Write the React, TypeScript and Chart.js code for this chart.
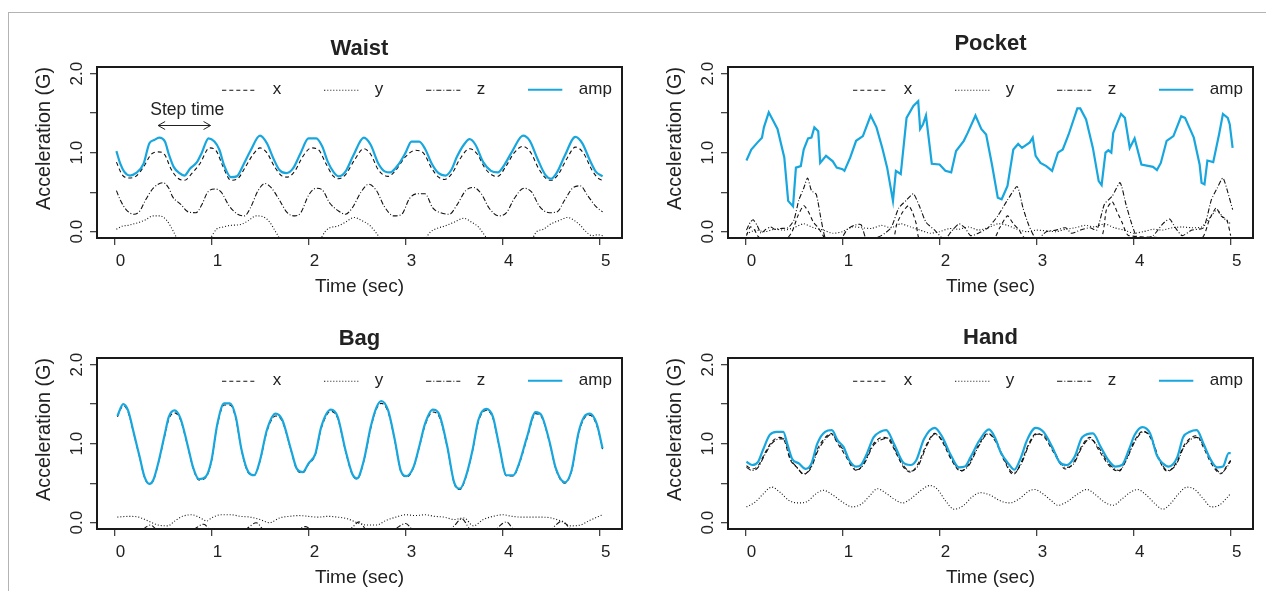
import React, { useEffect, useRef } from 'react';
import { Chart, registerables } from 'chart.js';

Chart.register(...registerables);

type Pt = [number, number];

// ---------------- data ----------------
const panelTitles = ['Waist', 'Pocket', 'Bag', 'Hand'];
const seriesNames = ['x', 'y', 'z', 'amp'];
const xTickValues = [0, 1, 2, 3, 4, 5];
const xTickLabels = ['0', '1', '2', '3', '4', '5'];
const yTickValues = [0, 0.5, 1, 1.5, 2];
const yTickLabels = ['0.0', '', '1.0', '', '2.0'];
const xAxisTitle = 'Time (sec)';
const yAxisTitle = 'Acceleration (G)';
const stepTimeLabel = 'Step time';
const stepArrowT = [0.45, 0.99];
const stepArrowV = 1.35;
const stepLabelPos: Pt = [0.75, 1.54];

const waistAmp: Pt[] = [[0.02,1.02],[0.06,0.86],[0.1,0.76],[0.16,0.71],[0.22,0.74],[0.3,0.86],[0.36,1.12],[0.41,1.16],[0.46,1.19],[0.52,1.14],[0.56,0.98],[0.61,0.82],[0.67,0.74],[0.72,0.71],[0.78,0.8],[0.85,0.88],[0.9,1.0],[0.97,1.18],[1.03,1.14],[1.08,1.04],[1.13,0.84],[1.2,0.69],[1.26,0.7],[1.33,0.85],[1.4,1.02],[1.5,1.215],[1.57,1.12],[1.64,0.92],[1.7,0.78],[1.77,0.74],[1.84,0.8],[1.92,1.0],[2.0,1.18],[2.08,1.18],[2.14,1.08],[2.2,0.88],[2.26,0.75],[2.31,0.7],[2.38,0.76],[2.46,0.96],[2.57,1.19],[2.64,1.1],[2.72,0.86],[2.79,0.76],[2.84,0.75],[2.92,0.84],[3.0,1.0],[3.06,1.14],[3.14,1.14],[3.2,1.05],[3.27,0.86],[3.34,0.74],[3.41,0.71],[3.47,0.78],[3.53,0.95],[3.6,1.1],[3.66,1.17],[3.72,1.1],[3.8,0.88],[3.88,0.77],[3.95,0.75],[4.02,0.85],[4.1,1.02],[4.21,1.215],[4.28,1.15],[4.36,0.92],[4.44,0.72],[4.5,0.67],[4.56,0.75],[4.64,0.96],[4.75,1.2],[4.82,1.12],[4.9,0.9],[4.96,0.76],[5.03,0.7]];
const waistX: Pt[] = [[0.02,0.88],[0.08,0.72],[0.15,0.68],[0.22,0.7],[0.3,0.82],[0.38,0.98],[0.45,1.01],[0.52,0.97],[0.58,0.8],[0.65,0.68],[0.72,0.65],[0.8,0.74],[0.88,0.86],[0.98,1.06],[1.05,1.02],[1.12,0.82],[1.2,0.65],[1.27,0.67],[1.35,0.82],[1.43,0.98],[1.5,1.06],[1.57,1.0],[1.65,0.82],[1.72,0.71],[1.78,0.69],[1.86,0.77],[1.94,0.95],[2.03,1.06],[2.1,1.04],[2.18,0.86],[2.25,0.71],[2.31,0.67],[2.38,0.72],[2.47,0.9],[2.57,1.05],[2.64,0.98],[2.72,0.78],[2.82,0.7],[2.9,0.78],[3.0,0.95],[3.1,1.03],[3.18,1.0],[3.27,0.8],[3.34,0.69],[3.4,0.66],[3.48,0.74],[3.56,0.92],[3.66,1.05],[3.74,0.98],[3.82,0.8],[3.9,0.71],[3.95,0.7],[4.03,0.82],[4.12,1.0],[4.21,1.08],[4.29,1.0],[4.37,0.8],[4.45,0.67],[4.5,0.65],[4.57,0.72],[4.66,0.92],[4.75,1.07],[4.83,1.0],[4.92,0.78],[4.98,0.68],[5.03,0.65]];
const waistY: Pt[] = [[0.02,0.03],[0.08,0.07],[0.14,0.08],[0.2,0.1],[0.26,0.12],[0.32,0.15],[0.4,0.2],[0.47,0.2],[0.54,0.14],[0.6,0.02],[0.66,-0.12],[0.8,-0.3],[0.9,-0.2],[0.99,-0.08],[1.05,0.03],[1.12,0.06],[1.2,0.08],[1.3,0.09],[1.38,0.14],[1.46,0.2],[1.53,0.19],[1.6,0.12],[1.66,0.0],[1.72,-0.12],[1.85,-0.3],[2.0,-0.25],[2.12,-0.1],[2.17,0.0],[2.22,0.05],[2.3,0.07],[2.38,0.12],[2.47,0.18],[2.55,0.14],[2.63,0.08],[2.7,-0.02],[2.76,-0.12],[2.95,-0.3],[3.1,-0.2],[3.2,-0.09],[3.26,0.0],[3.32,0.04],[3.4,0.07],[3.5,0.12],[3.6,0.17],[3.68,0.12],[3.75,0.06],[3.8,-0.02],[3.86,-0.12],[4.05,-0.3],[4.2,-0.2],[4.3,-0.1],[4.35,0.0],[4.42,0.03],[4.5,0.1],[4.58,0.14],[4.67,0.18],[4.74,0.14],[4.8,0.08],[4.86,0.0],[4.92,-0.05],[4.98,-0.04],[5.03,-0.05]];
const waistZ: Pt[] = [[0.02,0.52],[0.06,0.4],[0.12,0.28],[0.2,0.22],[0.26,0.26],[0.32,0.4],[0.4,0.55],[0.5,0.62],[0.56,0.55],[0.6,0.44],[0.68,0.35],[0.76,0.25],[0.84,0.24],[0.9,0.34],[0.96,0.5],[1.04,0.54],[1.1,0.5],[1.18,0.33],[1.27,0.22],[1.34,0.2],[1.4,0.3],[1.48,0.52],[1.55,0.61],[1.62,0.55],[1.7,0.4],[1.78,0.24],[1.86,0.2],[1.92,0.24],[2.0,0.46],[2.08,0.55],[2.14,0.53],[2.22,0.36],[2.3,0.27],[2.38,0.22],[2.45,0.3],[2.54,0.5],[2.62,0.6],[2.7,0.52],[2.78,0.32],[2.88,0.2],[2.96,0.22],[3.04,0.42],[3.12,0.48],[3.2,0.48],[3.28,0.3],[3.36,0.24],[3.45,0.22],[3.53,0.34],[3.62,0.52],[3.7,0.56],[3.78,0.48],[3.86,0.3],[3.96,0.2],[4.04,0.24],[4.12,0.42],[4.22,0.55],[4.3,0.5],[4.38,0.32],[4.48,0.24],[4.56,0.25],[4.64,0.4],[4.72,0.55],[4.8,0.58],[4.88,0.45],[4.96,0.32],[5.03,0.25]];

const pocketAmp: Pt[] = [[0.01,0.9],[0.06,1.04],[0.125,1.13],[0.17,1.19],[0.19,1.32],[0.24,1.51],[0.33,1.3],[0.4,0.94],[0.44,0.39],[0.49,0.32],[0.52,0.81],[0.57,0.83],[0.6,1.04],[0.645,1.18],[0.68,1.19],[0.71,1.32],[0.75,1.27],[0.77,0.87],[0.83,0.96],[0.9,0.89],[0.94,0.81],[1.0,0.79],[1.02,0.77],[1.08,0.94],[1.14,1.15],[1.21,1.21],[1.29,1.47],[1.35,1.32],[1.41,1.06],[1.46,0.81],[1.52,0.39],[1.55,0.77],[1.6,0.73],[1.66,1.44],[1.73,1.59],[1.78,1.65],[1.8,1.3],[1.83,1.36],[1.86,1.47],[1.92,0.86],[2.0,0.85],[2.06,0.77],[2.12,0.75],[2.17,1.02],[2.25,1.15],[2.29,1.25],[2.37,1.47],[2.43,1.3],[2.48,1.23],[2.54,0.85],[2.6,0.43],[2.64,0.41],[2.7,0.58],[2.76,1.04],[2.81,1.11],[2.85,1.06],[2.93,1.13],[2.96,1.19],[2.99,0.96],[3.04,0.87],[3.1,0.83],[3.16,0.77],[3.22,1.0],[3.27,1.04],[3.33,1.23],[3.42,1.56],[3.45,1.56],[3.51,1.42],[3.58,1.06],[3.64,0.64],[3.67,0.59],[3.71,1.0],[3.74,1.03],[3.77,1.0],[3.79,1.25],[3.87,1.49],[3.91,1.44],[3.96,1.06],[4.01,1.18],[4.08,0.85],[4.2,0.82],[4.24,0.78],[4.28,0.87],[4.34,1.15],[4.41,1.21],[4.49,1.46],[4.53,1.44],[4.62,1.19],[4.68,0.85],[4.7,0.62],[4.73,0.6],[4.76,0.9],[4.82,0.88],[4.88,1.23],[4.92,1.49],[4.97,1.44],[4.99,1.36],[5.02,1.06]];
const pocketX: Pt[] = [[0.01,-0.05],[0.05,0.06],[0.09,0.03],[0.13,-0.06],[0.2,-0.12],[0.4,-0.12],[0.48,0.0],[0.54,0.2],[0.6,0.33],[0.65,0.25],[0.7,0.12],[0.75,0.05],[0.8,-0.05],[0.85,-0.15],[1.5,-0.15],[1.56,0.1],[1.62,0.25],[1.68,0.33],[1.72,0.25],[1.76,0.1],[1.8,-0.1],[2.55,-0.1],[2.62,0.05],[2.7,0.2],[2.76,0.1],[2.82,0.02],[2.88,-0.08],[3.65,-0.1],[3.72,0.28],[3.78,0.38],[3.83,0.25],[3.88,0.12],[3.95,-0.05],[4.7,-0.08],[4.78,0.15],[4.85,0.3],[4.9,0.2],[4.96,0.15],[5.0,-0.05]];
const pocketY: Pt[] = [[0.01,-0.03],[0.1,0.02],[0.2,0.0],[0.3,0.03],[0.4,0.02],[0.5,0.05],[0.6,0.1],[0.7,0.05],[0.8,0.02],[0.9,-0.02],[1.0,0.0],[1.1,0.06],[1.2,0.05],[1.3,0.04],[1.4,0.08],[1.5,0.05],[1.6,0.1],[1.7,0.06],[1.8,0.02],[1.9,-0.02],[2.0,0.0],[2.1,0.04],[2.2,0.03],[2.3,0.06],[2.4,0.02],[2.5,0.05],[2.6,0.1],[2.7,0.08],[2.8,0.03],[2.9,0.0],[3.0,0.02],[3.1,0.01],[3.2,0.0],[3.3,0.03],[3.4,0.05],[3.5,0.08],[3.6,0.06],[3.7,0.1],[3.8,0.05],[3.9,0.02],[4.0,-0.02],[4.1,0.0],[4.2,0.03],[4.3,0.02],[4.4,0.05],[4.5,0.06],[4.6,0.05],[4.7,0.06],[4.8,0.2],[4.86,0.28],[4.92,0.18],[5.0,0.1]];
const pocketZ: Pt[] = [[0.01,0.02],[0.05,0.12],[0.08,0.15],[0.12,0.08],[0.16,-0.02],[0.2,0.02],[0.26,0.06],[0.3,0.03],[0.36,0.04],[0.44,0.05],[0.5,0.15],[0.55,0.4],[0.6,0.55],[0.64,0.68],[0.68,0.52],[0.73,0.47],[0.78,0.15],[0.83,-0.1],[0.95,-0.15],[1.05,0.03],[1.12,0.08],[1.19,0.09],[1.25,-0.1],[1.4,-0.05],[1.5,0.05],[1.58,0.3],[1.66,0.4],[1.73,0.48],[1.8,0.3],[1.86,0.12],[1.95,0.02],[2.05,-0.1],[2.12,0.0],[2.2,0.1],[2.26,0.05],[2.32,-0.05],[2.4,-0.02],[2.5,0.05],[2.6,0.2],[2.7,0.4],[2.8,0.57],[2.86,0.3],[2.92,0.08],[3.0,-0.1],[3.1,0.0],[3.2,0.02],[3.3,0.05],[3.36,-0.02],[3.45,0.02],[3.55,0.05],[3.62,0.02],[3.7,0.35],[3.78,0.45],[3.86,0.62],[3.92,0.35],[3.98,0.1],[4.05,-0.1],[4.2,-0.05],[4.3,0.1],[4.37,0.16],[4.43,0.05],[4.5,-0.05],[4.6,0.02],[4.72,0.05],[4.8,0.4],[4.86,0.55],[4.92,0.68],[4.97,0.5],[5.02,0.28]];

const bagAmp: Pt[] = [[0.03,1.35],[0.09,1.5],[0.14,1.42],[0.2,1.13],[0.26,0.83],[0.31,0.58],[0.36,0.49],[0.4,0.54],[0.45,0.75],[0.52,1.13],[0.56,1.34],[0.62,1.42],[0.68,1.32],[0.75,1.0],[0.81,0.7],[0.87,0.55],[0.94,0.58],[1.0,0.79],[1.06,1.25],[1.13,1.51],[1.19,1.51],[1.25,1.34],[1.31,0.92],[1.38,0.64],[1.44,0.6],[1.5,0.79],[1.57,1.17],[1.66,1.38],[1.73,1.3],[1.82,0.92],[1.88,0.68],[1.94,0.64],[2.0,0.75],[2.07,0.87],[2.13,1.21],[2.23,1.43],[2.3,1.34],[2.38,0.92],[2.45,0.62],[2.5,0.56],[2.57,0.79],[2.64,1.21],[2.7,1.46],[2.75,1.54],[2.82,1.42],[2.89,1.04],[2.95,0.66],[3.01,0.59],[3.08,0.7],[3.14,0.96],[3.2,1.25],[3.28,1.43],[3.35,1.36],[3.43,0.96],[3.5,0.51],[3.56,0.43],[3.62,0.58],[3.69,0.92],[3.75,1.3],[3.83,1.44],[3.9,1.34],[3.96,1.0],[4.04,0.6],[4.11,0.6],[4.17,0.75],[4.25,1.08],[4.34,1.4],[4.4,1.36],[4.48,1.04],[4.55,0.68],[4.64,0.51],[4.71,0.66],[4.78,1.13],[4.84,1.34],[4.9,1.38],[4.97,1.25],[5.03,0.94]];
const bagX: Pt[] = [[0.03,1.34],[0.09,1.48],[0.14,1.4],[0.2,1.12],[0.26,0.82],[0.31,0.57],[0.36,0.49],[0.4,0.53],[0.45,0.74],[0.52,1.11],[0.56,1.31],[0.62,1.39],[0.68,1.3],[0.75,0.99],[0.81,0.69],[0.87,0.54],[0.94,0.57],[1.0,0.78],[1.06,1.23],[1.13,1.49],[1.19,1.49],[1.25,1.32],[1.31,0.91],[1.38,0.63],[1.44,0.6],[1.5,0.78],[1.57,1.15],[1.66,1.35],[1.73,1.28],[1.82,0.91],[1.88,0.67],[1.94,0.63],[2.0,0.74],[2.07,0.86],[2.13,1.19],[2.23,1.41],[2.3,1.32],[2.38,0.91],[2.45,0.61],[2.5,0.55],[2.57,0.78],[2.64,1.19],[2.7,1.44],[2.75,1.51],[2.82,1.4],[2.89,1.03],[2.95,0.65],[3.01,0.58],[3.08,0.69],[3.14,0.95],[3.2,1.23],[3.28,1.4],[3.35,1.33],[3.43,0.95],[3.5,0.5],[3.56,0.42],[3.62,0.57],[3.69,0.91],[3.75,1.28],[3.83,1.42],[3.9,1.32],[3.96,0.99],[4.04,0.59],[4.11,0.59],[4.17,0.74],[4.25,1.06],[4.34,1.38],[4.4,1.34],[4.48,1.03],[4.55,0.67],[4.64,0.5],[4.71,0.65],[4.78,1.11],[4.84,1.32],[4.9,1.36],[4.97,1.23],[5.03,0.93]];
const bagY: Pt[] = [[0.03,0.07],[0.15,0.08],[0.25,0.07],[0.35,0.02],[0.45,-0.03],[0.55,-0.04],[0.62,0.02],[0.7,0.08],[0.8,0.1],[0.9,0.05],[0.95,0.02],[1.0,0.06],[1.1,0.1],[1.2,0.1],[1.3,0.08],[1.4,0.07],[1.5,0.04],[1.6,0.0],[1.7,0.06],[1.8,0.08],[1.9,0.09],[2.0,0.08],[2.1,0.07],[2.2,0.08],[2.3,0.07],[2.4,0.05],[2.5,0.0],[2.6,-0.03],[2.7,-0.03],[2.8,0.03],[2.9,0.07],[3.0,0.1],[3.1,0.09],[3.2,0.1],[3.3,0.08],[3.4,0.07],[3.5,0.04],[3.6,0.06],[3.7,-0.04],[3.8,0.04],[3.9,0.08],[4.0,0.1],[4.1,0.08],[4.2,0.07],[4.3,0.07],[4.4,0.07],[4.5,0.06],[4.6,0.02],[4.7,-0.04],[4.8,-0.03],[4.9,0.03],[5.03,0.1]];
const bagZ: Pt[] = [[0.03,-0.2],[0.2,-0.2],[0.3,-0.08],[0.37,-0.03],[0.44,-0.1],[0.55,-0.22],[0.8,-0.1],[0.92,-0.02],[1.0,-0.12],[1.2,-0.2],[1.38,-0.06],[1.46,0.0],[1.54,-0.1],[1.75,-0.2],[1.9,-0.08],[1.97,-0.05],[2.05,-0.12],[2.3,-0.2],[2.45,-0.06],[2.52,0.01],[2.6,-0.1],[2.8,-0.18],[2.93,-0.05],[3.0,-0.01],[3.08,-0.1],[3.35,-0.2],[3.5,-0.04],[3.58,0.05],[3.66,-0.08],[3.85,-0.2],[3.97,-0.04],[4.04,0.01],[4.12,-0.1],[4.4,-0.2],[4.54,-0.04],[4.61,0.02],[4.7,-0.08],[4.9,-0.2],[5.03,-0.15]];

const handAmp: Pt[] = [[0.01,0.77],[0.07,0.73],[0.13,0.77],[0.18,0.92],[0.25,1.11],[0.32,1.15],[0.39,1.15],[0.43,1.0],[0.48,0.81],[0.55,0.75],[0.62,0.68],[0.68,0.75],[0.74,1.0],[0.82,1.15],[0.89,1.17],[0.95,1.04],[1.01,0.96],[1.07,0.79],[1.14,0.71],[1.19,0.73],[1.25,0.87],[1.32,1.08],[1.39,1.15],[1.45,1.17],[1.53,1.0],[1.62,0.77],[1.7,0.73],[1.76,0.79],[1.84,1.06],[1.95,1.2],[2.03,1.08],[2.11,0.87],[2.2,0.7],[2.26,0.71],[2.32,0.83],[2.41,1.04],[2.51,1.18],[2.57,1.08],[2.63,0.89],[2.72,0.73],[2.77,0.67],[2.84,0.83],[2.9,1.04],[2.99,1.2],[3.07,1.15],[3.16,0.96],[3.24,0.76],[3.31,0.73],[3.39,0.83],[3.47,1.08],[3.58,1.13],[3.66,0.96],[3.74,0.79],[3.81,0.71],[3.88,0.73],[3.95,0.92],[4.01,1.11],[4.09,1.21],[4.17,1.13],[4.24,0.85],[4.3,0.75],[4.36,0.71],[4.45,0.83],[4.51,1.08],[4.58,1.15],[4.65,1.17],[4.72,1.0],[4.78,0.83],[4.86,0.7],[4.92,0.71],[4.98,0.88],[5.0,0.88]];
const handX: Pt[] = [[0.01,0.72],[0.07,0.68],[0.13,0.72],[0.2,0.88],[0.27,1.02],[0.35,1.08],[0.4,1.04],[0.46,0.8],[0.53,0.7],[0.6,0.61],[0.67,0.7],[0.75,0.95],[0.84,1.1],[0.88,1.13],[0.95,1.0],[1.03,0.85],[1.1,0.7],[1.15,0.66],[1.22,0.76],[1.32,1.0],[1.42,1.08],[1.47,1.06],[1.56,0.86],[1.63,0.7],[1.7,0.64],[1.78,0.75],[1.87,1.0],[1.95,1.13],[2.03,1.02],[2.12,0.8],[2.22,0.65],[2.3,0.74],[2.4,0.98],[2.5,1.13],[2.58,1.02],[2.66,0.8],[2.76,0.61],[2.84,0.76],[2.92,1.0],[3.0,1.13],[3.08,1.08],[3.18,0.88],[3.3,0.68],[3.38,0.76],[3.47,0.98],[3.55,1.08],[3.64,0.92],[3.75,0.72],[3.85,0.65],[3.92,0.8],[4.01,1.04],[4.1,1.16],[4.18,1.06],[4.26,0.8],[4.35,0.65],[4.44,0.76],[4.52,0.98],[4.65,1.1],[4.72,0.95],[4.8,0.75],[4.9,0.62],[4.96,0.72],[5.0,0.79]];
const handY: Pt[] = [[0.01,0.2],[0.1,0.26],[0.18,0.36],[0.27,0.45],[0.36,0.38],[0.45,0.28],[0.55,0.25],[0.64,0.27],[0.72,0.36],[0.8,0.41],[0.9,0.35],[1.0,0.26],[1.1,0.2],[1.2,0.24],[1.28,0.34],[1.36,0.43],[1.44,0.38],[1.53,0.3],[1.62,0.25],[1.7,0.3],[1.8,0.4],[1.9,0.47],[1.98,0.42],[2.06,0.28],[2.15,0.17],[2.25,0.22],[2.33,0.32],[2.42,0.38],[2.52,0.35],[2.62,0.28],[2.72,0.25],[2.82,0.3],[2.92,0.4],[2.98,0.42],[3.07,0.36],[3.15,0.28],[3.22,0.22],[3.32,0.27],[3.42,0.36],[3.52,0.42],[3.6,0.36],[3.7,0.26],[3.79,0.22],[3.88,0.3],[3.96,0.38],[4.04,0.42],[4.12,0.36],[4.22,0.24],[4.3,0.17],[4.38,0.24],[4.46,0.36],[4.55,0.45],[4.63,0.42],[4.72,0.3],[4.8,0.2],[4.88,0.22],[4.95,0.3],[5.0,0.37]];
const handZ: Pt[] = [[0.01,0.7],[0.07,0.66],[0.13,0.7],[0.2,0.86],[0.27,1.0],[0.35,1.06],[0.4,1.06],[0.46,0.82],[0.53,0.7],[0.6,0.62],[0.67,0.68],[0.75,0.92],[0.84,1.08],[0.89,1.12],[0.95,1.02],[1.03,0.88],[1.1,0.72],[1.15,0.67],[1.22,0.74],[1.32,0.98],[1.42,1.06],[1.47,1.07],[1.56,0.88],[1.63,0.72],[1.7,0.65],[1.78,0.72],[1.87,0.98],[1.95,1.12],[2.03,1.04],[2.12,0.82],[2.22,0.66],[2.3,0.72],[2.4,0.96],[2.5,1.12],[2.58,1.04],[2.66,0.82],[2.76,0.63],[2.84,0.74],[2.92,0.98],[3.0,1.12],[3.08,1.1],[3.18,0.9],[3.3,0.7],[3.38,0.74],[3.47,0.96],[3.55,1.06],[3.64,0.95],[3.75,0.74],[3.85,0.66],[3.92,0.78],[4.01,1.02],[4.1,1.15],[4.18,1.08],[4.26,0.82],[4.35,0.66],[4.44,0.74],[4.52,0.96],[4.65,1.08],[4.72,0.98],[4.8,0.78],[4.9,0.63],[4.96,0.7],[5.0,0.78]];

const panelSeries: Pt[][][] = [
  [waistX, waistY, waistZ, waistAmp],
  [pocketX, pocketY, pocketZ, pocketAmp],
  [bagX, bagY, bagZ, bagAmp],
  [handX, handY, handZ, handAmp],
];

// ---------------- layout / style ----------------
const X_MIN = -0.18, X_MAX = 5.23, Y_MIN = -0.08, Y_MAX = 2.084;
const BOX_W = 525, BOX_H = 171;
const YAXIS_W = 90, XAXIS_H = 65, TOP_SPACE = 62, BOTTOM_SPACE = 70, RIGHT_PAD = 6;
const PANEL_POS = [
  { L: 97, T: 67, titleGap: 18, smooth: true },
  { L: 728, T: 67, titleGap: 22.7, smooth: false },
  { L: 97, T: 358, titleGap: 18.6, smooth: true },
  { L: 728, T: 358, titleGap: 20.2, smooth: true },
];
const TEXT = '#222';
const INK = '#111';
const BLUE = '#17a6de';
const FONT = '"Liberation Sans", Arial, sans-serif';
const STYLES = [
  { color: INK, width: 1.1, dash: [4, 3] },
  { color: INK, width: 1.1, dash: [1, 2] },
  { color: INK, width: 1.1, dash: [5, 2, 1, 2] },
  { color: BLUE, width: 2.2, dash: [] as number[] },
];
const LEGEND_PAD = 43;
const LEGEND_FONT = 17;
const SWATCH_W = 42, SWATCH_LINE = 34;

function makeSwatch(color: string, width: number, dash: number[]) {
  const c = document.createElement('canvas');
  c.width = SWATCH_W;
  c.height = 6;
  const g = c.getContext('2d')!;
  g.strokeStyle = color;
  g.lineWidth = width < 2 ? 1 : 2;
  g.setLineDash(dash);
  g.beginPath();
  g.moveTo(0, width < 2 ? 3.5 : 3);
  g.lineTo(SWATCH_LINE, width < 2 ? 3.5 : 3);
  g.stroke();
  return c;
}

const boxPlugin = {
  id: 'rbox',
  afterDatasetsDraw(chart: any) {
    const { ctx, chartArea: a } = chart;
    ctx.save();
    ctx.strokeStyle = '#1a1a1a';
    ctx.lineWidth = 2;
    ctx.setLineDash([]);
    ctx.strokeRect(a.left, a.top, a.right - a.left, a.bottom - a.top);
    ctx.restore();
  },
};

const legendInside = {
  id: 'legendInside',
  beforeInit(chart: any) {
    const lg = chart.legend;
    if (!lg) return;
    const fit = lg.fit;
    lg.fit = function () {
      fit.call(this);
      this.height = 0;
    };
  },
  afterLayout(chart: any) {
    const lg = chart.legend;
    if (!lg) return;
    const a = chart.chartArea;
    const lineX = a.left + 125.3;
    const lineY = a.top + 22.7;
    lg.left = lineX - LEGEND_PAD;
    lg.right = chart.width + 300;
    lg.top = lineY - LEGEND_PAD - LEGEND_FONT / 2;
    lg.bottom = lg.top + 140;
    lg.width = lg.right - lg.left;
    lg.height = lg.bottom - lg.top;
  },
};

const stepPlugin = {
  id: 'stepTime',
  afterDatasetsDraw(chart: any) {
    const xs = chart.scales.x, ys = chart.scales.y, ctx = chart.ctx;
    const x1 = xs.getPixelForValue(stepArrowT[0]);
    const x2 = xs.getPixelForValue(stepArrowT[1]);
    const y = Math.round(ys.getPixelForValue(stepArrowV)) + 0.5;
    ctx.save();
    ctx.strokeStyle = '#222';
    ctx.lineWidth = 1;
    ctx.beginPath();
    ctx.moveTo(x1, y);
    ctx.lineTo(x2, y);
    ctx.moveTo(x1 + 7, y - 4);
    ctx.lineTo(x1, y);
    ctx.lineTo(x1 + 7, y + 4);
    ctx.moveTo(x2 - 7, y - 4);
    ctx.lineTo(x2, y);
    ctx.lineTo(x2 - 7, y + 4);
    ctx.stroke();
    ctx.fillStyle = TEXT;
    ctx.font = `17.5px ${FONT}`;
    ctx.textAlign = 'center';
    ctx.textBaseline = 'middle';
    ctx.fillText(stepTimeLabel, xs.getPixelForValue(stepLabelPos[0]), ys.getPixelForValue(stepLabelPos[1]));
    ctx.restore();
  },
};

function Panel({ idx }: { idx: number }) {
  const ref = useRef<HTMLCanvasElement | null>(null);
  const pos = PANEL_POS[idx];
  const width = YAXIS_W + BOX_W + RIGHT_PAD;
  const height = TOP_SPACE + BOX_H + BOTTOM_SPACE;
  useEffect(() => {
    if (!ref.current) return;
    const swatches = STYLES.map((s) => makeSwatch(s.color, s.width, s.dash));
    const padTop = TOP_SPACE - pos.titleGap - 13.2;
    const titleBottom = pos.titleGap - 13.2;
    const datasets = panelSeries[idx].map((data, i) => ({
      label: seriesNames[i],
      data,
      borderColor: STYLES[i].color,
      backgroundColor: STYLES[i].color,
      borderWidth: STYLES[i].width,
      borderDash: STYLES[i].dash,
      pointRadius: 0,
      fill: false,
      order: i === 3 ? -1 : i,
      tension: pos.smooth ? 0.4 : (i === 3 ? 0 : 0.2),
      cubicInterpolationMode: pos.smooth ? 'monotone' : 'default',
    }));
    const plugins: any[] = [legendInside, boxPlugin];
    if (idx === 0) plugins.push(stepPlugin);
    const chart = new Chart(ref.current, {
      type: 'line',
      data: { datasets: datasets as any },
      options: {
        responsive: false,
        animation: false,
        events: [],
        layout: { padding: { left: 0, right: RIGHT_PAD, top: padTop, bottom: BOTTOM_SPACE - XAXIS_H } },
        font: { family: FONT },
        scales: {
          x: {
            type: 'linear',
            min: X_MIN,
            max: X_MAX,
            afterBuildTicks: (s: any) => { s.ticks = xTickValues.map((v) => ({ value: v })); },
            afterFit: (s: any) => { s.height = XAXIS_H; },
            grid: { drawOnChartArea: false, drawTicks: true, tickLength: 7, color: '#444', lineWidth: 1.3 },
            border: { display: false },
            ticks: {
              autoSkip: false, maxRotation: 0, minRotation: 0,
              font: { size: 17, family: FONT }, color: TEXT, padding: 6.3, labelOffset: 6,
              callback: (_v: any, i: number) => xTickLabels[i],
            },
            title: { display: true, text: xAxisTitle, font: { size: 19, family: FONT }, color: TEXT, padding: { top: 0, bottom: 4.8 } },
          },
          y: {
            type: 'linear',
            min: Y_MIN,
            max: Y_MAX,
            afterBuildTicks: (s: any) => { s.ticks = yTickValues.map((v) => ({ value: v })); },
            afterFit: (s: any) => { s.width = YAXIS_W; },
            grid: { drawOnChartArea: false, drawTicks: true, tickLength: 7, color: '#444', lineWidth: 1.3 },
            border: { display: false },
            ticks: {
              autoSkip: false, minRotation: 90, maxRotation: 90, crossAlign: 'center',
              font: { size: 17, family: FONT }, color: TEXT, padding: 1.2,
              callback: (_v: any, i: number) => yTickLabels[i],
            },
            title: { display: true, text: yAxisTitle, align: 'end', font: { size: 19.8, family: FONT }, color: TEXT, padding: { top: 26.1, bottom: 0 } },
          },
        },
        plugins: {
          title: {
            display: true, text: panelTitles[idx], fullSize: false,
            font: { size: 22, weight: 'bold', family: FONT }, color: TEXT,
            padding: { top: 0, bottom: titleBottom },
          },
          legend: {
            display: true, position: 'top', align: 'start',
            labels: {
              usePointStyle: true, pointStyleWidth: SWATCH_W, padding: LEGEND_PAD,
              font: { size: LEGEND_FONT, family: FONT }, color: TEXT,
              sort: (a: any, b: any) => a.datasetIndex - b.datasetIndex,
              generateLabels: (ch: any) => {
                const items = (Chart.defaults.plugins.legend.labels as any).generateLabels(ch);
                items.forEach((it: any) => { it.pointStyle = swatches[it.datasetIndex]; it.fontColor = TEXT; });
                return items;
              },
            },
          },
          tooltip: { enabled: false },
        },
      } as any,
      plugins,
    });
    return () => chart.destroy();
  }, [idx]);
  return (
    <canvas
      ref={ref}
      width={width}
      height={height}
      style={{ position: 'absolute', left: pos.L - YAXIS_W - 8, top: pos.T - TOP_SPACE - 8, width, height }}
    />
  );
}

export default function App() {
  useEffect(() => {
    document.documentElement.style.overflow = 'hidden';
    document.body.style.overflow = 'hidden';
  }, []);
  return (
    <div style={{ position: 'relative', width: 1266, height: 583, overflow: 'hidden', background: '#fff' }}>
      <div style={{ position: 'absolute', left: 0, top: 4, width: 1400, height: 800, borderTop: '1px solid #b3b3b3', borderLeft: '1px solid #b3b3b3' }} />
      {[0, 1, 2, 3].map((i) => <Panel key={i} idx={i} />)}
    </div>
  );
}
